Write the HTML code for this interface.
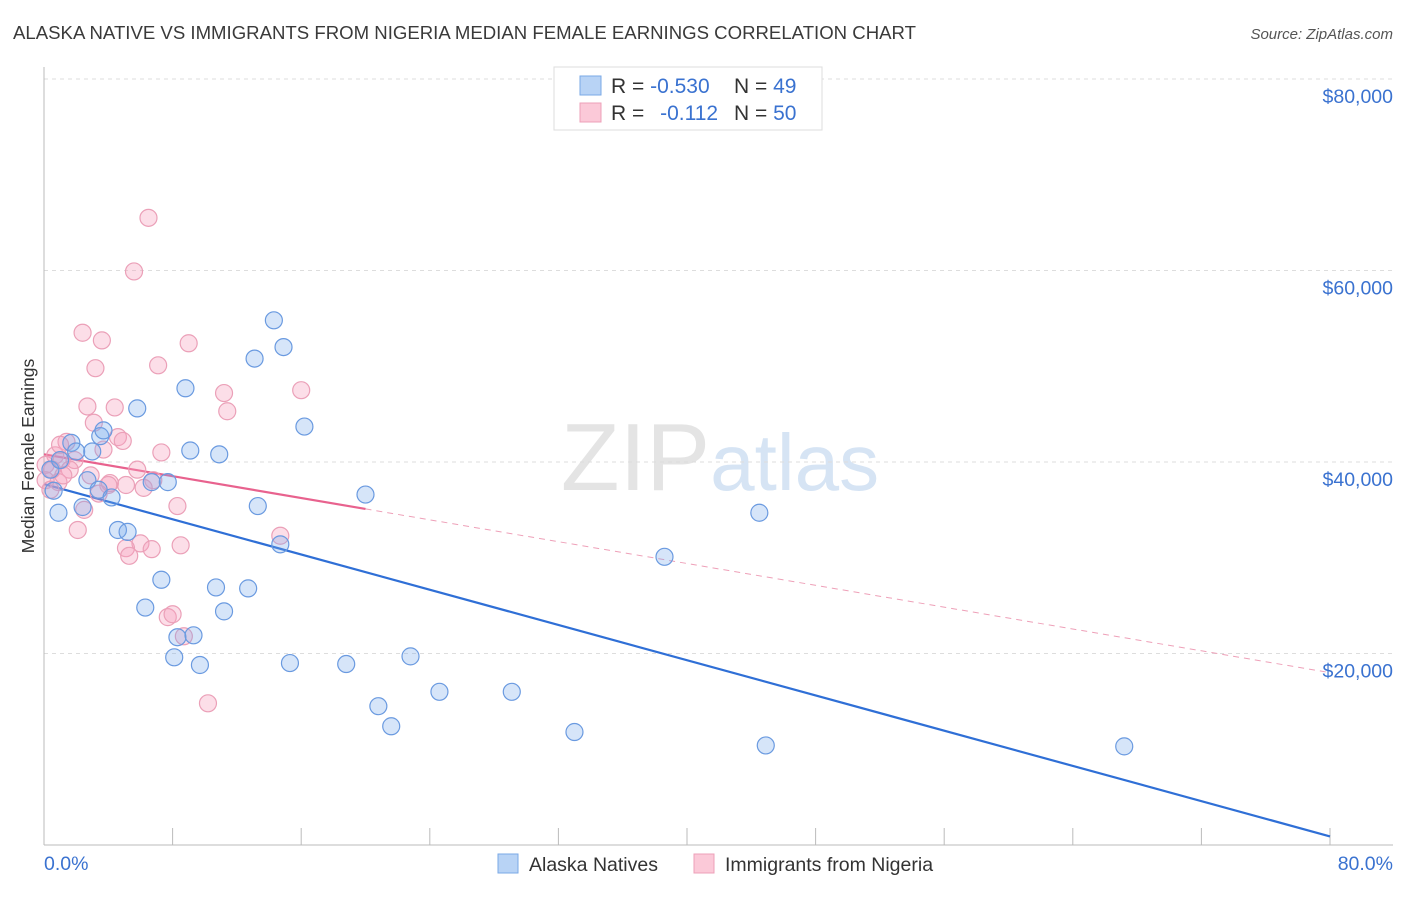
<!DOCTYPE html>
<html><head><meta charset="utf-8"><style>
body{margin:0;background:#fff;font-family:"Liberation Sans",sans-serif;}
svg text{font-family:"Liberation Sans",sans-serif;}
</style></head><body>
<svg id="chart" width="1406" height="892" viewBox="0 0 1406 892" xmlns="http://www.w3.org/2000/svg">
<text x="13" y="39" font-size="18.6" fill="#3a3a3a">ALASKA NATIVE VS IMMIGRANTS FROM NIGERIA MEDIAN FEMALE EARNINGS CORRELATION CHART</text>
<text x="1393" y="39" font-size="15" fill="#555" text-anchor="end" font-style="italic">Source: ZipAtlas.com</text>
<text x="720" y="490" font-size="96" text-anchor="middle" fill="#e4e4e4" font-family="Liberation Serif"><tspan>ZIP</tspan><tspan fill="#d6e4f4" font-family="Liberation Sans" font-size="80">atlas</tspan></text>
<g id="grid"></g>
<g id="axes"></g>
<g id="lines"></g>
<g id="points"></g>
<text transform="translate(34,456) rotate(-90)" font-size="17.5" fill="#333" text-anchor="middle">Median Female Earnings</text>
<g>
<rect x="554" y="67" width="268" height="63" fill="#fff" stroke="#ddd"/>
<rect x="580" y="76" width="21" height="19" fill="#b8d3f5" stroke="#7aa8e6"/>
<rect x="580" y="103" width="21" height="19" fill="#fbc9d8" stroke="#eea0b8"/>
<text x="611" y="93" font-size="21" fill="#333">R = <tspan fill="#3a72d0">-0.530</tspan></text>
<text x="734" y="93" font-size="21" fill="#333">N = <tspan fill="#3a72d0">49</tspan></text>
<text x="611" y="120" font-size="21" fill="#333">R = <tspan fill="#3a72d0" dx="10">-0.112</tspan></text>
<text x="734" y="120" font-size="21" fill="#333">N = <tspan fill="#3a72d0">50</tspan></text>
</g>
<g>
<rect x="498" y="854" width="20" height="19" fill="#b8d3f5" stroke="#7aa8e6"/>
<text x="529" y="871" font-size="19.5" fill="#333">Alaska Natives</text>
<rect x="694" y="854" width="20" height="19" fill="#fbc9d8" stroke="#eea0b8"/>
<text x="725" y="871" font-size="19.5" fill="#333">Immigrants from Nigeria</text>
</g>
</svg>
<script>
const blueX=[0.6,0.9,1.7,2.0,2.4,2.7,3.0,3.4,3.5,3.7,4.2,4.6,5.2,5.8,7.3,6.3,6.7,7.7,8.1,8.3,8.8,9.1,9.3,9.7,10.7,10.9,11.2,12.7,13.1,13.3,14.3,14.7,14.9,15.3,16.2,18.8,20.0,20.8,21.6,22.8,24.6,29.1,33.0,38.6,44.5,44.9,67.2,0.4,1.0];
const blueY=[37.0,34.7,42.0,41.1,35.3,38.1,41.1,37.1,42.7,43.3,36.3,32.9,32.7,45.6,27.7,24.8,37.9,37.9,19.6,21.7,47.7,41.2,21.9,18.8,26.9,40.8,24.4,26.8,50.8,35.4,54.8,31.4,52.0,19.0,43.7,18.9,36.6,14.5,12.4,19.7,16.0,16.0,11.8,30.1,34.7,10.4,10.3,39.2,40.2];
const pinkX=[6.5,5.6,2.4,3.6,3.2,9.0,7.1,16.0,11.2,11.4,2.7,4.4,3.1,1.4,4.6,4.9,3.7,7.3,0.7,1.1,1.9,0.1,0.5,1.6,5.8,6.8,0.9,4.1,4.0,5.1,6.2,3.4,2.5,8.3,14.7,6.0,8.5,5.1,6.7,5.3,2.1,7.7,8.0,8.7,10.2,0.1,1.2,0.4,2.9,1.0];
const pinkY=[65.5,59.9,53.5,52.7,49.8,52.4,50.1,47.5,47.2,45.3,45.8,45.7,44.1,42.1,42.6,42.2,41.3,41.0,40.7,40.2,40.2,39.7,39.2,39.2,39.2,38.1,37.9,37.8,37.6,37.6,37.3,36.7,35.0,35.4,32.3,31.5,31.3,31.0,30.9,30.2,32.9,23.8,24.1,21.8,14.8,38.1,38.6,37.1,38.6,41.8];
const yTicks=[20,40,60,80];
const yTickLabels=["$20,000","$40,000","$60,000","$80,000"];
const xTickLabels=["0.0%","80.0%"];
const blueTrend=[[0,37.7],[80,0.9]];
const pinkTrendSolid=[[0,40.8],[20,35.1]];
const pinkTrendDash=[[20,35.1],[80,18.0]];

const NS="http://www.w3.org/2000/svg";
const X0=44,X1=1330,YB=845,PXK=191.5/20;
const sx=v=>X0+v/80*(X1-X0);
const sy=v=>YB-v*PXK;
function mk(tag,attrs,parent){const e=document.createElementNS(NS,tag);for(const k in attrs)e.setAttribute(k,attrs[k]);parent.appendChild(e);return e;}
const grid=document.getElementById('grid'),axes=document.getElementById('axes'),lines=document.getElementById('lines'),pts=document.getElementById('points');
yTicks.forEach((t,i)=>{
 const l=mk('line',{x1:X0,x2:1393,y1:sy(t),y2:sy(t),stroke:'#ddd','stroke-dasharray':'4,4'},grid);
 
 
 const tx=mk('text',{x:1393,y:sy(t)+24,'font-size':19.5,fill:'#3a72d0','text-anchor':'end'},axes);
 tx.textContent=yTickLabels[i];
 
 
});
const ya=mk('line',{x1:X0,x2:X0,y1:67,y2:YB,stroke:'#bbb'},axes);


const xa=mk('line',{x1:X0,x2:1393,y1:YB,y2:YB,stroke:'#bbb'},axes);


for(let i=0;i<=10;i++){
 const t=mk('line',{x1:sx(i*8),x2:sx(i*8),y1:YB,y2:YB-17,stroke:'#bbb'},axes);
 
 
}
const xl0=mk('text',{x:44,y:870,'font-size':19.5,fill:'#3a72d0'},axes);xl0.textContent=xTickLabels[0];


const xl1=mk('text',{x:1393,y:870,'font-size':19.5,fill:'#3a72d0','text-anchor':'end'},axes);xl1.textContent=xTickLabels[1];


function drawPts(xs,ys,fill,stroke,name){
 xs.forEach((x,i)=>{
  const c=mk('circle',{cx:sx(x),cy:sy(ys[i]),r:8.5,fill:fill,stroke:stroke,'stroke-width':1.2},pts);
  
  
 });
}
drawPts(pinkX,pinkY,'rgba(245,160,190,0.35)','#eba0b8','point-nigeria');
drawPts(blueX,blueY,'rgba(120,170,235,0.3)','#6a9ae0','point-alaska');
function ln(p,col,w,dash,name){
 const l=mk('line',{x1:sx(p[0][0]),y1:sy(p[0][1]),x2:sx(p[1][0]),y2:sy(p[1][1]),stroke:col,'stroke-width':w},lines);
 if(dash)l.setAttribute('stroke-dasharray',dash);
 
 
}
ln(blueTrend,'#2f6fd6',2.2,null,'trend-alaska');
ln(pinkTrendSolid,'#e8628e',2.2,null,'trend-nigeria');
ln(pinkTrendDash,'#eea0b8',1,'6,5','trend-nigeria-extension');
</script>
</body></html>
